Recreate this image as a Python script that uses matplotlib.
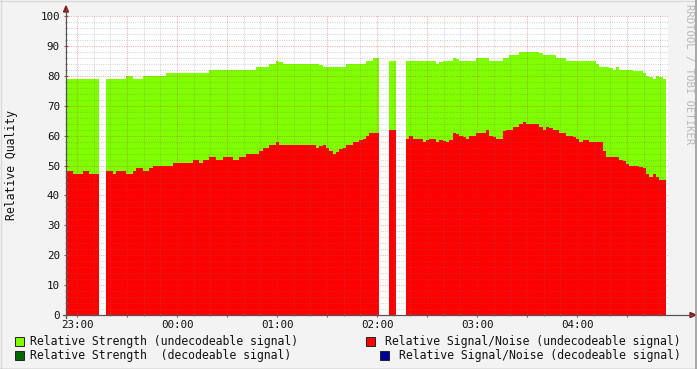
import numpy as np
import matplotlib
matplotlib.use("Agg")
import matplotlib.pyplot as plt
from matplotlib.patches import Rectangle, Polygon
from matplotlib.lines import Line2D

nan = np.nan

# time axis: minutes relative to 23:00, 2-minute steps starting 22:53:24
start_min = -6.6
step_min = 2.0

strength = [
    79, 79, 79, 79, 79, 79, 79, 79, 79, 79,
    nan, nan,
    79, 79, 79, 79, 79, 79, 80, 80,
    79, 79, 79, 80, 80, 80, 80, 80, 80, 80,
    81, 81, 81, 81, 81, 81, 81, 81, 81, 81,
    81, 81, 81, 82, 82, 82, 82, 82, 82, 82,
    82, 82, 82, 82, 82, 82, 82, 83, 83, 83,
    83, 84, 84, 85, 84.5, 84, 84, 84, 84, 84,
    84, 84, 84, 84, 84, 84, 83.5, 83, 83, 83,
    83, 83, 83, 83, 84, 84, 84, 84, 84, 84,
    85, 85, 86, 86, nan, nan, nan, 85, 85, nan,
    nan, nan, 85, 85, 85, 85, 85, 85, 85, 85,
    85, 84, 84.5, 85, 85, 85, 86, 85.5, 85, 85,
    85, 85, 85, 86, 86, 86, 86, 85, 85, 85,
    85, 86, 86, 87, 87, 87, 88, 88, 88, 88,
    88, 88, 87.5, 87, 87, 87, 87, 86, 86, 86,
    85, 85, 85, 85, 85, 85, 85, 85, 85, 84,
    83, 83, 83, 82.5, 82, 83, 82, 82, 82, 82,
    81.5, 81.5, 81.5, 81, 80, 79.5, 79, 80, 79.5, 79,
]

snr = [
    48, 48, 47, 47, 47, 48, 48, 47, 47, 47,
    nan, nan,
    48, 48, 47, 48, 48, 48, 47, 47,
    48, 49, 49, 48, 48, 49, 50, 50, 50, 50,
    50, 50, 51, 51, 51, 51, 51, 51, 52, 52,
    51, 52, 52, 53, 53, 52, 52, 53, 53, 53,
    52, 52, 53, 53, 54, 54, 54, 54, 55, 56,
    56, 57, 57, 58, 57, 57, 57, 57, 57, 57,
    57, 57, 57, 57, 57, 56, 56.5, 57, 56, 55,
    54, 54.5, 55.5, 56, 57, 57, 58, 58, 58.5, 59,
    60, 61, 61, 61, nan, nan, nan, 62, 62, nan,
    nan, nan, 59, 60, 59, 59, 59, 58, 58.5, 59,
    59, 58, 58.5, 58.3, 58, 58.5, 61, 60.4, 60, 59.5,
    59, 60, 60, 61, 61, 61, 62, 60, 59.5, 59,
    59, 61.5, 62, 62, 63, 63, 64, 64.5, 64, 64,
    64, 64, 63, 62, 63, 62.5, 62, 62, 61, 61,
    60, 60, 59.5, 59, 58, 58.5, 58.5, 58, 58, 58,
    58, 55, 53, 53, 53, 53, 52, 51.5, 50.5, 50,
    50, 50, 49.5, 49, 47, 46, 47, 46, 45, 45,
]

xtick_pos = [0, 30, 60, 90, 120, 150, 180, 210, 240, 270, 300, 330]
xtick_labels = ["23:00", "", "00:00", "", "01:00", "", "02:00", "", "03:00", "", "04:00", ""]
ytick_vals = list(range(0, 101, 10))

legend_items = [
    ("Relative Strength (undecodeable signal)", "#80FF00"),
    ("Relative Strength  (decodeable signal)", "#006600"),
    ("Relative Signal/Noise (undecodeable signal)", "#FF0000"),
    ("Relative Signal/Noise (decodeable signal)", "#000099"),
]

W, H = 697, 369
MONO = "DejaVu Sans Mono"
plt.rcParams["font.family"] = [MONO]

fig = plt.figure(figsize=(W / 100, H / 100), dpi=100, facecolor="#F3F3F3")


def fx(x):
    return x / W


def fy(y):
    return 1 - y / H


ax_l, ax_r, ax_t, ax_b = 66, 668, 16, 315
ax = fig.add_axes([fx(ax_l), fy(ax_b), fx(ax_r) - fx(ax_l), fy(ax_t) - fy(ax_b)])
ax.set_facecolor("white")

s = np.array(strength, dtype=float)
r = np.array(snr, dtype=float)
n = len(s)
edges = start_min + step_min * np.arange(n + 1)

ax.stairs(s, edges, baseline=0, fill=True, color="#80FF00", linewidth=0, antialiased=False, zorder=1)
ax.stairs(r, edges, baseline=0, fill=True, color="#FF0000", linewidth=0, antialiased=False, zorder=1.1)

ax.set_xlim(start_min, start_min + (ax_r - ax_l) * 0.6)
ax.set_ylim(0, 100)

# grid
for v in np.arange(2, 100.1, 2):
    if v % 10 == 0:
        ax.axhline(v, color=(0.8, 0.2, 0.2, 0.38), lw=0.75, ls=(0, (1, 1.2)), zorder=3)
    else:
        ax.axhline(v, color=(0.45, 0.45, 0.45, 0.3), lw=0.75, ls=(0, (1, 1.2)), zorder=3)
for m in np.arange(-0, 360, 10):
    if m % 30 == 0:
        ax.axvline(m, color=(0.8, 0.2, 0.2, 0.38), lw=0.75, ls=(0, (1, 1.2)), zorder=3)
    else:
        ax.axvline(m, color=(0.45, 0.45, 0.45, 0.3), lw=0.75, ls=(0, (1, 1.2)), zorder=3)

ax.set_xticks(xtick_pos)
ax.set_xticklabels(xtick_labels)
ax.set_xticks(np.arange(10, 360, 10), minor=True)
ax.set_yticks(ytick_vals)
ax.set_yticks(np.arange(0, 101, 2), minor=True)
ax.tick_params(axis="both", which="major", length=3, width=0.8, color="#AA4444",
               labelsize=7.8, labelcolor="#111111", pad=2, direction="inout")
ax.tick_params(axis="both", which="minor", length=2, width=0.8, color="#999999", direction="inout")
ax.tick_params(axis="y", which="major", pad=3)
for sp in ax.spines.values():
    sp.set_visible(False)

# axes lines and arrows
fig.add_artist(Line2D([fx(66), fx(66)], [fy(318), fy(9)], color="#555555", lw=0.9))
fig.add_artist(Line2D([fx(63), fx(692)], [fy(315), fy(315)], color="#555555", lw=0.9))
fig.add_artist(Polygon([[fx(66), fy(6)], [fx(63.5), fy(12)], [fx(68.5), fy(12)]],
                       closed=True, color="#8B1A1A", transform=fig.transFigure))
fig.add_artist(Polygon([[fx(696), fy(315)], [fx(690), fy(312.5)], [fx(690), fy(317.5)]],
                       closed=True, color="#8B1A1A", transform=fig.transFigure))

# y axis label
fig.text(fx(12), fy(165), "Relative Quality", rotation=90, ha="center", va="center",
         fontsize=8.3, color="#111111")

# watermark
fig.text(fx(689), fy(4), "RRDTOOL / TOBI OETIKER", rotation=270, ha="center", va="top",
         fontsize=7.6, color="#B8B8B8")

# legend
leg_pos = [(15, 341, 30, "left"), (15, 355, 30, "left"), (366, 341, 681, "right"), (380, 355, 681, "right")]
for (label, col), (bx, ty, tx, ha) in zip(legend_items, leg_pos):
    fig.add_artist(Rectangle((fx(bx), fy(ty + 4.5)), 9 / W, 9 / H, facecolor=col,
                             edgecolor="#222222", lw=0.7, transform=fig.transFigure))
    fig.text(fx(tx), fy(ty), label, ha=ha, va="center", fontsize=8.3, color="#111111")

# frame shading
fig.add_artist(Line2D([0, 1], [fy(0.5), fy(0.5)], color="#DADADA", lw=1))
fig.add_artist(Line2D([fx(0.5), fx(0.5)], [0, 1], color="#DADADA", lw=1))
fig.add_artist(Line2D([0, 1], [fy(368.5), fy(368.5)], color="#9A9A9A", lw=1))
fig.add_artist(Line2D([fx(696.3), fx(696.3)], [0, 1], color="#9A9A9A", lw=1.2))

fig.savefig("out.png", dpi=100, facecolor=fig.get_facecolor())
